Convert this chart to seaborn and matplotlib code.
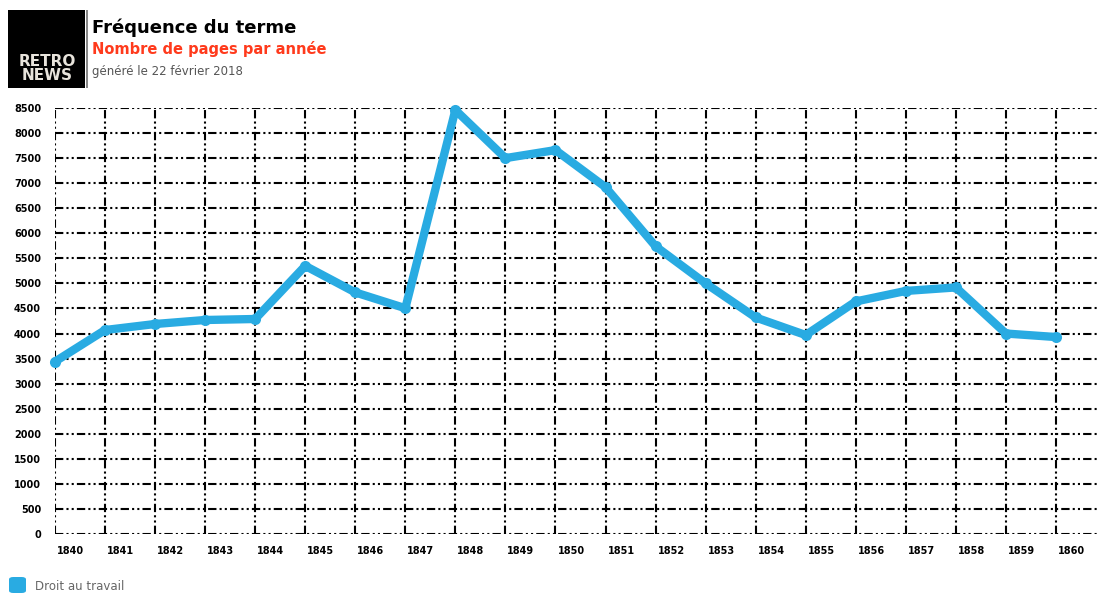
import matplotlib
matplotlib.use("Agg")
import matplotlib.pyplot as plt
import seaborn as sns
import pandas as pd
from matplotlib.patches import FancyBboxPatch, Rectangle
import matplotlib.transforms as mtransforms

years = list(range(1840, 1861))
pages = [3440, 4070, 4190, 4270, 4290, 5350, 4820, 4505, 8460, 7500,
         7660, 6920, 5740, 5000, 4320, 3970, 4640, 4850, 4920, 4000, 3930]
y_ticks = list(range(0, 8501, 500))
series_name = "Droit au travail"
title = "Fréquence du terme"
subtitle = "Nombre de pages par année"
generated = "généré le 22 février 2018"

df = pd.DataFrame({"year": years, "pages": pages})

sns.set_theme(style="white")
plt.rcParams['font.family'] = ['DejaVu Sans']

fig = plt.figure(figsize=(10.99, 5.96), dpi=100)
ax = fig.add_axes([55/1099, 1-534/596, (1099-55)/1099, (534-108)/596])

blue = "#29abe2"
sns.lineplot(data=df, x="year", y="pages", ax=ax, color=blue, lw=6,
             marker="o", markersize=8, markeredgewidth=0, clip_on=False, zorder=5)

ax.set_xlim(1840, 1860.86)
ax.set_ylim(0, 8500)
ax.set_xticks(years)
ax.set_xticklabels([str(y) for y in years], fontsize=7, fontweight='bold', ha='left',
                   color='black')
ax.set_yticks(y_ticks)
ax.set_yticklabels([str(v) for v in y_ticks], fontsize=7, fontweight='bold', color='black')
ax.tick_params(axis='x', length=0, pad=9)
ax.tick_params(axis='y', length=0, pad=10)
ax.set_xlabel("")
ax.set_ylabel("")
for s in ax.spines.values():
    s.set_visible(False)
ax.grid(True, color="black", linewidth=1.5, linestyle=(0, (4, 1.5, 1, 1.5, 1, 1.5)))
ax.set_axisbelow(True)

offset = mtransforms.ScaledTranslation(2/100, 0, fig.dpi_scale_trans)
for lab in ax.get_xticklabels():
    lab.set_transform(lab.get_transform() + offset)

# Logo
fig.add_artist(Rectangle((8/1099, 1-88/596), 77/1099, 78/596, transform=fig.transFigure,
                         facecolor="black", edgecolor="none"))
fig.add_artist(Rectangle((86/1099, 1-88/596), 1.5/1099, 78/596, transform=fig.transFigure,
                         facecolor="#888888", edgecolor="none"))
fig.text(47/1099, 1-61/596, "RETRO", color="#e8e4dc", fontsize=11, fontweight='heavy',
         ha='center', va='center')
fig.text(47/1099, 1-76/596, "NEWS", color="#e8e4dc", fontsize=11, fontweight='heavy',
         ha='center', va='center')

fig.text(92/1099, 1-28/596, title, color="black", fontsize=13, fontweight='bold',
         ha='left', va='center')
fig.text(92/1099, 1-49/596, subtitle, color="#ff3a1c", fontsize=10.5, fontweight='bold',
         ha='left', va='center')
fig.text(92/1099, 1-71/596, generated, color="#555555", fontsize=8.5,
         ha='left', va='center')

# Legend
fig.add_artist(FancyBboxPatch((9/1099, 1-593/596), 17/1099, 16/596,
                              boxstyle="round,pad=0,rounding_size=0.004",
                              transform=fig.transFigure, facecolor=blue, edgecolor="none"))
fig.text(35/1099, 1-586/596, series_name, color="#666666", fontsize=8.5,
         ha='left', va='center')

fig.savefig("out.png", dpi=100)
